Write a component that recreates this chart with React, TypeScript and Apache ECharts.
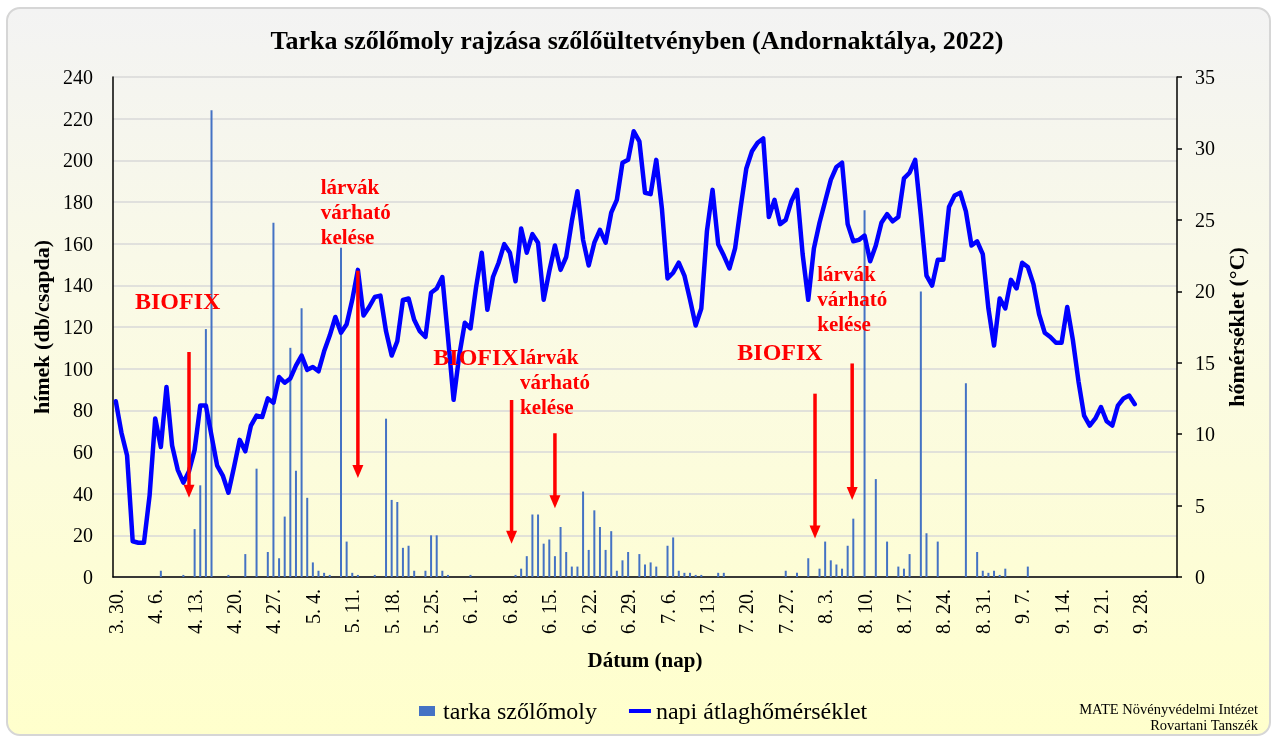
import React, { useEffect, useRef } from "react";
import * as echarts from "echarts";

const SERIF = "'Liberation Serif', 'Times New Roman', serif";

const TITLE = "Tarka szőlőmoly rajzása szőlőültetvényben (Andornaktálya, 2022)";
const SERIES_BAR = "tarka szőlőmoly";
const SERIES_LINE = "napi átlaghőmérséklet";

// Daily categories from 3.30. (189 days, labels every 7th)
const START_MONTH = 3;
const START_DAY = 30;
const DAY_COUNT = 189;
const MONTH_LENGTHS: Record<number, number> = { 3: 31, 4: 30, 5: 31, 6: 30, 7: 31, 8: 31, 9: 30, 10: 31 };

function buildDates(): string[] {
  const out: string[] = [];
  let m = START_MONTH;
  let d = START_DAY;
  for (let i = 0; i < DAY_COUNT; i++) {
    out.push(`${m}. ${d}.`);
    d++;
    if (d > MONTH_LENGTHS[m]) {
      m++;
      d = 1;
    }
  }
  return out;
}
const dates = buildDates();

// Trap catches (db/csapda), one value per day, weeks per row
const catches = [
  0, 0, 0, 0, 0, 0, 0,
  0, 3, 0, 0, 0, 1, 0,
  23, 44, 119, 224, 0, 0, 1,
  0, 0, 11, 0, 52, 0, 12,
  170, 9, 29, 110, 51, 129, 38,
  7, 3, 2, 1, 0, 158, 17,
  2, 1, 0, 0, 1, 0, 76,
  37, 36, 14, 15, 3, 0, 3,
  20, 20, 3, 1, 0, 0, 0,
  1, 0, 0, 0, 0, 0, 0,
  0, 1, 4, 10, 30, 30, 16,
  18, 10, 24, 12, 5, 5, 41,
  13, 32, 24, 13, 22, 3, 8,
  12, 0, 11, 6, 7, 5, 0,
  15, 19, 3, 2, 2, 1, 1,
  0, 0, 2, 2, 0, 0, 0,
  0, 0, 0, 0, 0, 0, 0,
  3, 0, 2, 0, 9, 0, 4,
  17, 8, 6, 4, 15, 28, 0,
  176, 0, 47, 0, 17, 0, 5,
  4, 11, 0, 137, 21, 0, 17,
  0, 0, 0, 0, 93, 0, 12,
  3, 2, 3, 1, 4, 0, 0,
  0, 5, 0, 0, 0, 0, 0,
  0, 0, 0, 0, 0, 0, 0,
  0, 0, 0, 0, 0, 0, 0,
  0, 0, 0, 0, 0, 0, 0,
];

// Daily mean temperature (°C)
const temperatures = [
  12.3, 10.1, 8.5, 2.5, 2.4, 2.4, 5.7,
  11.1, 9.1, 13.3, 9.2, 7.5, 6.6, 7.4,
  8.9, 12.0, 12.0, 9.9, 7.8, 7.1, 5.9,
  7.7, 9.6, 8.8, 10.6, 11.3, 11.2, 12.5,
  12.2, 14.0, 13.6, 13.9, 14.8, 15.5, 14.5,
  14.7, 14.4, 15.8, 16.9, 18.2, 17.1, 17.7,
  19.4, 21.5, 18.3, 18.9, 19.6, 19.7, 17.2,
  15.5, 16.5, 19.4, 19.5, 18.0, 17.2, 16.8,
  19.9, 20.2, 21.0, 16.8, 12.4, 15.5, 17.8,
  17.4, 20.3, 22.7, 18.7, 21.0, 22.0, 23.3,
  22.7, 20.7, 24.4, 22.7, 24.0, 23.4, 19.4,
  21.4, 23.2, 21.5, 22.4, 24.9, 27.0, 23.6,
  21.8, 23.4, 24.3, 23.4, 25.5, 26.4, 29.0,
  29.2, 31.2, 30.5, 26.9, 26.8, 29.2, 25.8,
  20.9, 21.3, 22.0, 21.1, 19.4, 17.6, 18.8,
  24.2, 27.1, 23.3, 22.5, 21.6, 23.0, 25.9,
  28.6, 29.8, 30.4, 30.7, 25.2, 26.4, 24.7,
  25.0, 26.3, 27.1, 22.6, 19.4, 23.0, 24.8,
  26.3, 27.8, 28.7, 29.0, 24.7, 23.5, 23.6,
  23.9, 22.1, 23.2, 24.8, 25.4, 24.9, 25.2,
  27.9, 28.3, 29.2, 25.3, 21.1, 20.4, 22.2,
  22.2, 25.9, 26.7, 26.9, 25.6, 23.2, 23.5,
  22.6, 18.8, 16.2, 19.5, 18.8, 20.8, 20.2,
  22.0, 21.7, 20.5, 18.4, 17.1, 16.8, 16.4,
  16.4, 18.9, 16.6, 13.7, 11.3, 10.6, 11.1,
  11.9, 10.9, 10.6, 12.0, 12.5, 12.7, 12.1,
];

// Annotations, in data terms (day index, left-axis value)
const annotationTexts = [
  { text: "BIOFIX", day: 3.4, value: 132.5, size: 24 },
  { text: "lárvák\nvárható\nkelése", day: 36.4, value: 175.2, size: 21 },
  { text: "BIOFIX", day: 56.4, value: 105.6, size: 24 },
  { text: "lárvák\nvárható\nkelése", day: 71.8, value: 93.6, size: 21 },
  { text: "BIOFIX", day: 110.4, value: 108, size: 24 },
  { text: "lárvák\nvárható\nkelése", day: 124.6, value: 133.4, size: 21 },
];
const annotationArrows = [
  { day: 13, from: 108, to: 38 },
  { day: 43, from: 147, to: 47.5 },
  { day: 70.3, from: 85, to: 16 },
  { day: 78, from: 69, to: 33 },
  { day: 124.2, from: 88, to: 18.5 },
  { day: 130.8, from: 102.5, to: 37 },
];
const creditLines = ["MATE Növényvédelmi Intézet", "Rovartani Tanszék"];

export default function App() {
  const ref = useRef<HTMLDivElement>(null);

  useEffect(() => {
    if (!ref.current) return;
    const chart = echarts.init(ref.current, null, { renderer: "svg" });
    const axisText = { color: "#000", fontFamily: SERIF };
    const option: any = {
      animation: false,
      backgroundColor: "transparent",
      textStyle: { fontFamily: SERIF },
      title: {
        text: TITLE,
        left: "center",
        top: 22,
        textStyle: { fontSize: 26, fontWeight: "bold", color: "#000", fontFamily: SERIF },
      },
      grid: { left: 113, right: 97, top: 77, bottom: 159, containLabel: false },
      legend: {
        left: 414,
        top: 694,
        itemGap: 32,
        itemWidth: 22,
        itemHeight: 10,
        textStyle: { fontSize: 24, color: "#000", fontFamily: SERIF },
        data: [
          { name: SERIES_BAR, icon: "path://M0,0h16v10h-16z" },
          { name: SERIES_LINE, icon: "path://M0,0h22v4h-22z" },
        ],
      },
      xAxis: [
        {
          type: "category",
          data: dates,
          position: "bottom",
          boundaryGap: true,
          axisLine: { lineStyle: { color: "#000", width: 1.5 } },
          axisTick: { interval: 6, length: 6, lineStyle: { color: "#000", width: 1 } },
          axisLabel: { interval: 6, rotate: 90, margin: 12, fontSize: 20, ...axisText },
          splitLine: { show: false },
          name: "Dátum (nap)",
          nameLocation: "middle",
          nameGap: 72,
          nameTextStyle: { fontSize: 21, fontWeight: "bold", ...axisText },
        },
        {
          type: "category",
          data: dates,
          position: "bottom",
          boundaryGap: true,
          axisLine: { show: false },
          axisTick: { interval: 0, length: 3, lineStyle: { color: "#000", width: 1 } },
          axisLabel: { show: false },
          splitLine: { show: false },
        },
      ],
      yAxis: [
        {
          type: "value",
          position: "left",
          min: 0,
          max: 240,
          interval: 20,
          axisLine: { show: true, lineStyle: { color: "#000", width: 1.5 } },
          axisTick: { show: false },
          axisLabel: { margin: 20, fontSize: 20, ...axisText },
          splitLine: { lineStyle: { color: "#d9d9d9", width: 1.5 } },
          name: "hímek (db/csapda)",
          nameLocation: "middle",
          nameRotate: 90,
          nameGap: 56,
          nameTextStyle: { fontSize: 22, fontWeight: "bold", ...axisText },
        },
        {
          type: "value",
          position: "right",
          min: 0,
          max: 35,
          interval: 5,
          axisLine: { show: true, lineStyle: { color: "#000", width: 1.5 } },
          axisTick: { show: true, length: 5, lineStyle: { color: "#000", width: 1.5 } },
          axisLabel: { margin: 18, fontSize: 20, ...axisText },
          splitLine: { show: false },
          name: "hőmérséklet (°C)",
          nameLocation: "middle",
          nameRotate: 90,
          nameGap: 48,
          nameTextStyle: { fontSize: 22, fontWeight: "bold", ...axisText },
        },
      ],
      series: [
        {
          name: SERIES_BAR,
          type: "bar",
          xAxisIndex: 0,
          yAxisIndex: 0,
          data: catches,
          barWidth: 2,
          itemStyle: { color: "#4472c4" },
        },
        {
          name: SERIES_LINE,
          type: "line",
          xAxisIndex: 0,
          yAxisIndex: 1,
          data: temperatures,
          symbol: "none",
          showSymbol: false,
          lineStyle: { color: "#0000ff", width: 4.5, join: "round", cap: "round" },
          itemStyle: { color: "#0000ff" },
          z: 3,
        },
      ],
    };
    chart.setOption(option);

    const x0 = chart.convertToPixel({ xAxisIndex: 0 } as any, 0) as unknown as number;
    const x1 = chart.convertToPixel({ xAxisIndex: 0 } as any, 1) as unknown as number;
    const xPx = (d: number) => x0 + d * (x1 - x0);
    const yPx = (v: number) => chart.convertToPixel({ yAxisIndex: 0 } as any, v) as unknown as number;

    const graphics: any[] = [];
    annotationTexts.forEach((a) => {
      graphics.push({
        type: "text",
        x: xPx(a.day),
        y: yPx(a.value),
        z: 100,
        style: {
          text: a.text,
          fill: "#ff0000",
          fontFamily: SERIF,
          fontWeight: "bold",
          fontSize: a.size,
          lineHeight: 25,
          align: "left",
          verticalAlign: "middle",
        },
      });
    });
    annotationArrows.forEach((a) => {
      const x = xPx(a.day);
      const yTop = yPx(a.from);
      const yTip = yPx(a.to);
      graphics.push({
        type: "line",
        z: 100,
        shape: { x1: x, y1: yTop, x2: x, y2: yTip - 11 },
        style: { stroke: "#ff0000", lineWidth: 3.5 },
      });
      graphics.push({
        type: "polygon",
        z: 100,
        shape: { points: [[x, yTip], [x - 5.5, yTip - 13], [x + 5.5, yTip - 13]] },
        style: { fill: "#ff0000" },
      });
    });
    creditLines.forEach((t, i) => {
      graphics.push({
        type: "text",
        x: 1258,
        y: 709 + i * 16,
        z: 100,
        style: {
          text: t,
          fill: "#000",
          fontFamily: SERIF,
          fontSize: 14.5,
          align: "right",
          verticalAlign: "middle",
        },
      });
    });
    chart.setOption({ graphic: graphics });

    return () => chart.dispose();
  }, []);

  return (
    <div style={{ position: "fixed", left: 0, top: 0, width: 1274, height: 736 }}>
      <div
        style={{
          position: "absolute",
          left: 6,
          top: 7,
          width: 1265,
          height: 729,
          boxSizing: "border-box",
          border: "2px solid #d6d6d6",
          borderRadius: 14,
          background: "linear-gradient(to bottom, #f3f3f3 0%, #fafae6 40%, #ffffcc 100%)",
        }}
      />
      <div ref={ref} style={{ position: "absolute", left: 0, top: 0, width: 1274, height: 736 }} />
    </div>
  );
}
